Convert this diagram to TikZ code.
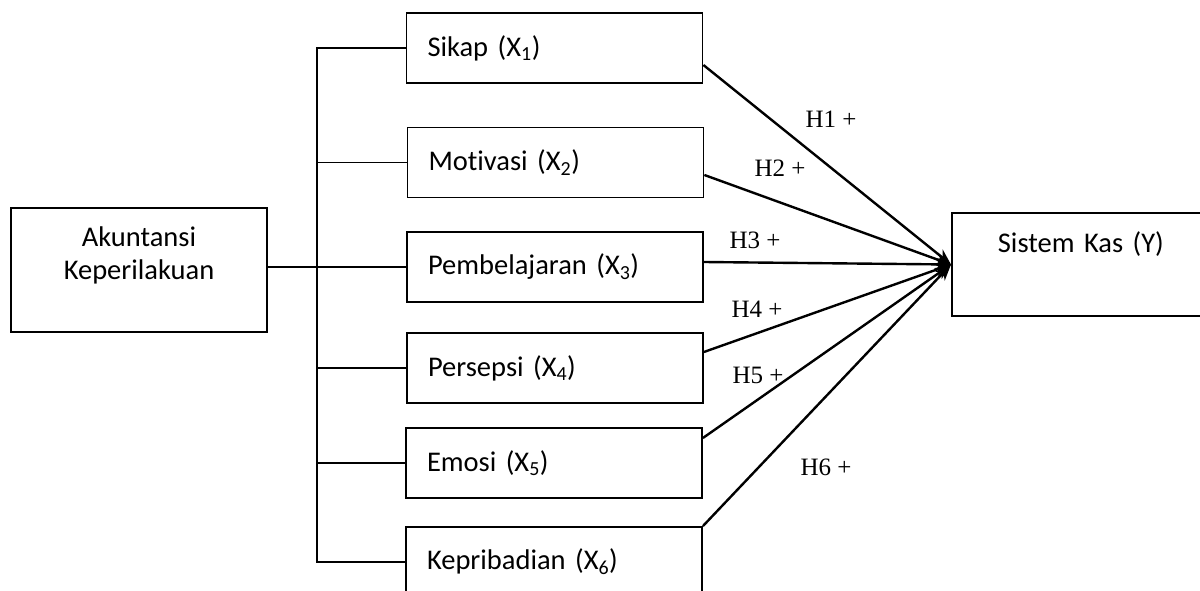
\documentclass[tikz,border=0pt]{standalone}
\usepackage{fontspec}
\setmainfont{Carlito}[Ligatures=NoCommon]
\newfontfamily\hypfont{Liberation Serif}
\usetikzlibrary{arrows.meta}

\begin{document}
\begin{tikzpicture}[x=1pt,y=-1pt,
  varbox/.style={draw,line width=1.8pt,minimum width=296pt,minimum height=70pt,
    text width=254pt,inner xsep=21pt,align=left,font=\fontsize{28.5}{33}\selectfont},
  hyp/.style={anchor=base,font=\hypfont\fontsize{25}{30}\selectfont},
  link/.style={line width=1.8pt},
  effect/.style={line width=2.4pt,-{Stealth[length=16pt,width=13pt]}}]
\useasboundingbox (0,0) rectangle (1200,591);
\clip (0,0) rectangle (1200,591);
\node[draw,line width=1.8pt,minimum width=256pt,minimum height=124pt,align=center,
  text depth=34pt,font=\fontsize{28.5}{33}\selectfont] (Akuntansi) at (139,270)
  {Akuntansi\\Keperilakuan};
\node[varbox] (Sikap) at (554.5,48) {Sikap (X\textsubscript{1})};
\node[varbox] (Motivasi) at (555.5,162.5) {Motivasi (X\textsubscript{2})};
\node[varbox] (Pembelajaran) at (555,267) {Pembelajaran (X\textsubscript{3})};
\node[varbox] (Persepsi) at (555,368) {Persepsi (X\textsubscript{4})};
\node[varbox] (Emosi) at (554,463) {Emosi (X\textsubscript{5})};
\node[varbox] (Kepribadian) at (554,562) {Kepribadian (X\textsubscript{6})};
\node[draw,line width=1.8pt,minimum width=310pt,minimum height=103pt,anchor=west,
  text width=218pt,inner xsep=46pt,align=left,text depth=45pt,
  font=\fontsize{28.5}{33}\selectfont] (SistemKas) at (951,264.5) {Sistem Kas (Y)};
\coordinate (bus) at (317,0);
\draw[link] (Sikap.west) -- (Sikap.west -| bus) -- (Kepribadian.west -| bus)
  -- (Kepribadian.west);
\foreach \v in {Motivasi,Persepsi,Emosi}
  \draw[link] (\v.west -| bus) -- (\v.west);
\draw[link] (Akuntansi.east |- Pembelajaran.west) -- (Pembelajaran.west);
\draw[effect] ([yshift=-17pt]Sikap.east) -- (SistemKas.west);
\draw[effect] ([yshift=-12.5pt]Motivasi.east) -- (SistemKas.west);
\draw[effect] ([yshift=5pt]Pembelajaran.east) -- (SistemKas.west);
\draw[effect] ([yshift=16pt]Persepsi.east) -- (SistemKas.west);
\draw[effect] ([yshift=25pt]Emosi.east) -- (SistemKas.west);
\draw[effect] (Kepribadian.north east) -- (SistemKas.west);
\node[hyp] (h1) at (831,128) {H1 +};
\node[hyp] (h2) at (780,177) {H2 +};
\node[hyp] (h3) at (755,248) {H3 +};
\node[hyp] (h4) at (757,317) {H4 +};
\node[hyp] (h5) at (758,383) {H5 +};
\node[hyp] (h6) at (826,475) {H6 +};
\end{tikzpicture}
\end{document}
